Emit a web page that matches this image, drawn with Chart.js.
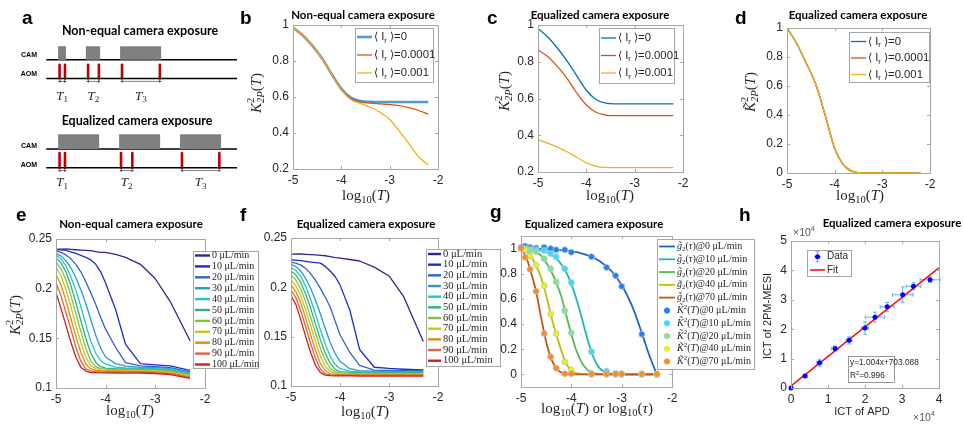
<!DOCTYPE html>
<html>
<head>
<meta charset="utf-8">
<title>Camera exposure figure</title>
<script src="https://cdn.jsdelivr.net/npm/chart.js@4.4.1/dist/chart.umd.min.js"></script>
<style>
  html, body { margin: 0; padding: 0; background: #fff; }
  #fig { position: relative; width: 964px; height: 425px; overflow: hidden; background: #fff; }
  #fig canvas { position: absolute; left: 0; top: 0; }
</style>
</head>
<body>
<div id="fig"></div>
<script>
var W = 964, H = 425;
var SANS = 'Liberation Sans', SERIF = 'Liberation Serif', TITLE = 'Lato';

// ---- a: timing diagram (time units along the row)
var camNonEq = [[55, 63], [83, 98], [118, 160]];
var aomNonEq = [[56.5, 62], [85.5, 96.5], [120, 158.5]];
var camEq = [[55, 97], [117, 159], [179, 221]];
var aomEq = [[56.5, 62], [119, 130.5], [181, 219]];

// ---- b, c, d
var logT = [-5, -4.8, -4.6, -4.4, -4.2, -4.0, -3.8, -3.6, -3.4, -3.2, -3.0, -2.8, -2.6, -2.4, -2.2];
var irLevels = ['0', '0.0001', '0.001'];
var bIr0 = [0.985, 0.943, 0.885, 0.815, 0.727, 0.645, 0.595, 0.577, 0.573, 0.572, 0.572, 0.572, 0.572, 0.572, 0.572];
var bIr1 = [0.985, 0.943, 0.885, 0.815, 0.727, 0.643, 0.590, 0.572, 0.566, 0.562, 0.558, 0.552, 0.541, 0.525, 0.505];
var bIr2 = [0.985, 0.943, 0.885, 0.815, 0.725, 0.640, 0.585, 0.563, 0.543, 0.515, 0.475, 0.410, 0.340, 0.268, 0.222];
var cIr0 = [0.980, 0.935, 0.875, 0.805, 0.725, 0.645, 0.595, 0.575, 0.571, 0.571, 0.571, 0.571, 0.571, 0.571, 0.571];
var cIr1 = [0.865, 0.828, 0.775, 0.710, 0.630, 0.565, 0.525, 0.510, 0.507, 0.507, 0.507, 0.507, 0.507, 0.507, 0.507];
var cIr2 = [0.375, 0.357, 0.335, 0.310, 0.280, 0.250, 0.231, 0.225, 0.224, 0.224, 0.224, 0.224, 0.224, 0.224, 0.224];
var dK = [1.000, 0.895, 0.760, 0.615, 0.400, 0.170, 0.050, 0.008, 0.000, 0.000, 0.000, 0.000, 0.000, 0.000, 0.000];

// ---- e, f
var flowT = [-5, -4.9, -4.8, -4.7, -4.6, -4.5, -4.4, -4.3, -4.2, -4.1, -4.0, -3.8, -3.6, -3.3, -3.0, -2.7, -2.3];
var flowRates = [0, 10, 20, 30, 40, 50, 60, 70, 80, 90, 100];
var flowColors = ['#2a2a8c', '#1f2ccc', '#2d63d6', '#2e97d6', '#25c4cc', '#2ab57e', '#7fc445', '#c9c51c', '#dc8d14', '#e2643c', '#cc2020'];
var e0 = [0.2395, 0.2398, 0.2400, 0.2396, 0.2392, 0.2388, 0.2385, 0.2383, 0.2373, 0.2366, 0.2366, 0.2345, 0.2315, 0.2245, 0.2100, 0.1870, 0.1475];
var e10 = [0.2393, 0.2390, 0.2385, 0.2370, 0.2355, 0.2335, 0.2315, 0.2290, 0.2245, 0.2170, 0.2055, 0.1790, 0.1440, 0.1245, 0.1232, 0.1222, 0.1178];
var e20 = [0.2380, 0.2365, 0.2340, 0.2300, 0.2245, 0.2170, 0.2070, 0.1960, 0.1840, 0.1710, 0.1590, 0.1410, 0.1255, 0.1222, 0.1214, 0.1205, 0.1163];
var e30 = [0.2356, 0.2330, 0.2280, 0.2210, 0.2110, 0.1990, 0.1850, 0.1690, 0.1530, 0.1400, 0.1310, 0.1245, 0.1220, 0.1208, 0.1205, 0.1196, 0.1155];
var e40 = [0.2340, 0.2300, 0.2230, 0.2120, 0.1980, 0.1820, 0.1640, 0.1470, 0.1350, 0.1275, 0.1240, 0.1210, 0.1203, 0.1199, 0.1196, 0.1187, 0.1147];
var e50 = [0.2310, 0.2260, 0.2170, 0.2030, 0.1860, 0.1680, 0.1500, 0.1350, 0.1260, 0.1215, 0.1200, 0.1195, 0.1193, 0.1190, 0.1187, 0.1178, 0.1138];
var e60 = [0.2270, 0.2200, 0.2090, 0.1930, 0.1750, 0.1570, 0.1400, 0.1270, 0.1215, 0.1195, 0.1189, 0.1186, 0.1185, 0.1182, 0.1179, 0.1170, 0.1130];
var e70 = [0.2215, 0.2130, 0.1990, 0.1820, 0.1630, 0.1460, 0.1310, 0.1225, 0.1195, 0.1183, 0.1179, 0.1177, 0.1176, 0.1174, 0.1171, 0.1162, 0.1122];
var e80 = [0.2145, 0.2040, 0.1880, 0.1700, 0.1520, 0.1360, 0.1240, 0.1195, 0.1178, 0.1172, 0.1170, 0.1169, 0.1168, 0.1166, 0.1163, 0.1153, 0.1113];
var e90 = [0.2060, 0.1930, 0.1760, 0.1590, 0.1410, 0.1270, 0.1190, 0.1172, 0.1165, 0.1163, 0.1162, 0.1161, 0.1160, 0.1158, 0.1155, 0.1145, 0.1105];
var e100 = [0.1963, 0.1800, 0.1630, 0.1460, 0.1310, 0.1210, 0.1170, 0.1156, 0.1154, 0.1153, 0.1152, 0.1151, 0.1150, 0.1149, 0.1146, 0.1135, 0.1097];
var f0 = [0.2335, 0.2340, 0.2338, 0.2335, 0.2332, 0.2328, 0.2324, 0.2320, 0.2312, 0.2302, 0.2295, 0.2282, 0.2267, 0.2205, 0.2115, 0.1905, 0.1450];
var f10 = [0.2277, 0.2275, 0.2270, 0.2263, 0.2256, 0.2250, 0.2245, 0.2212, 0.2165, 0.2110, 0.2025, 0.1770, 0.1370, 0.1190, 0.1178, 0.1170, 0.1162];
var f20 = [0.2253, 0.2245, 0.2225, 0.2190, 0.2140, 0.2070, 0.1990, 0.1900, 0.1800, 0.1660, 0.1520, 0.1340, 0.1210, 0.1160, 0.1157, 0.1156, 0.1155];
var f30 = [0.2233, 0.2210, 0.2165, 0.2090, 0.1990, 0.1870, 0.1730, 0.1580, 0.1440, 0.1330, 0.1250, 0.1175, 0.1155, 0.1150, 0.1149, 0.1148, 0.1148];
var f40 = [0.2200, 0.2170, 0.2110, 0.2010, 0.1880, 0.1730, 0.1570, 0.1420, 0.1300, 0.1220, 0.1175, 0.1150, 0.1143, 0.1142, 0.1141, 0.1141, 0.1141];
var f50 = [0.2166, 0.2125, 0.2050, 0.1930, 0.1790, 0.1630, 0.1470, 0.1330, 0.1230, 0.1170, 0.1145, 0.1138, 0.1136, 0.1135, 0.1135, 0.1135, 0.1135];
var f60 = [0.2125, 0.2075, 0.1980, 0.1850, 0.1700, 0.1540, 0.1380, 0.1260, 0.1180, 0.1145, 0.1133, 0.1129, 0.1128, 0.1128, 0.1128, 0.1128, 0.1128];
var f70 = [0.2074, 0.2015, 0.1910, 0.1770, 0.1610, 0.1450, 0.1300, 0.1200, 0.1150, 0.1130, 0.1125, 0.1122, 0.1122, 0.1121, 0.1121, 0.1121, 0.1121];
var f80 = [0.2024, 0.1955, 0.1840, 0.1690, 0.1520, 0.1360, 0.1230, 0.1155, 0.1125, 0.1118, 0.1116, 0.1115, 0.1115, 0.1115, 0.1115, 0.1115, 0.1115];
var f90 = [0.1973, 0.1895, 0.1760, 0.1600, 0.1430, 0.1280, 0.1170, 0.1125, 0.1113, 0.1110, 0.1109, 0.1108, 0.1108, 0.1108, 0.1108, 0.1108, 0.1108];
var f100 = [0.1915, 0.1825, 0.1670, 0.1500, 0.1340, 0.1210, 0.1135, 0.1110, 0.1105, 0.1103, 0.1102, 0.1102, 0.1101, 0.1101, 0.1101, 0.1101, 0.1101];
var eSeries = [e0, e10, e20, e30, e40, e50, e60, e70, e80, e90, e100];
var fSeries = [f0, f10, f20, f30, f40, f50, f60, f70, f80, f90, f100];

// ---- g
var gRates = [0, 10, 20, 40, 70];
var gLineColors = ['#1f66c8', '#1fb5ba', '#52bb52', '#bdbd00', '#bb5a10'];
var gDotColors = ['#1f80f5', '#3adcff', '#86e09a', '#e8f020', '#ff8a1e'];
var gTau = [-5, -4.9, -4.8, -4.7, -4.6, -4.5, -4.4, -4.3, -4.2, -4.1, -4.0, -3.9, -3.8, -3.7, -3.6, -3.5, -3.4, -3.2, -3.0, -2.8, -2.6, -2.45, -2.3];
var gFit0 = [1.000, 1.000, 0.999, 0.998, 0.997, 0.995, 0.993, 0.990, 0.987, 0.983, 0.978, 0.971, 0.962, 0.950, 0.935, 0.915, 0.890, 0.820, 0.710, 0.550, 0.330, 0.150, 0.000];
var gFit10 = [1.000, 0.999, 0.997, 0.993, 0.985, 0.972, 0.952, 0.920, 0.875, 0.810, 0.720, 0.600, 0.460, 0.310, 0.180, 0.085, 0.035, 0.005, 0, 0, 0, 0, 0];
var gFit20 = [1.000, 0.995, 0.988, 0.972, 0.945, 0.890, 0.820, 0.730, 0.620, 0.470, 0.320, 0.190, 0.100, 0.045, 0.018, 0.006, 0.002, 0, 0, 0, 0, 0, 0];
var gFit40 = [1.000, 0.980, 0.935, 0.865, 0.770, 0.630, 0.460, 0.320, 0.190, 0.085, 0.030, 0.010, 0.003, 0, 0, 0, 0, 0, 0, 0, 0, 0, 0];
var gFit70 = [1.000, 0.935, 0.810, 0.660, 0.450, 0.260, 0.125, 0.048, 0.015, 0.004, 0.001, 0, 0, 0, 0, 0, 0, 0, 0, 0, 0, 0, 0];
var gT = [-5, -4.92, -4.82, -4.7, -4.54, -4.41, -4.3, -4.13, -4.0, -3.6, -3.3, -3.12, -3.0, -2.6, -2.3];
var gK0 = [1.010, 1.020, 1.010, 1.005, 1.010, 1.000, 0.990, 0.990, 0.970, 0.935, 0.850, 0.785, 0.700, 0.320, 0.000];
var gK10 = [1.000, 1.000, 0.995, 0.990, 0.985, 0.960, 0.935, 0.840, 0.730, 0.180, 0.025, 0.008, 0.005, 0.005, 0.003];
var gK20 = [1.000, 0.995, 0.985, 0.975, 0.920, 0.840, 0.735, 0.505, 0.330, 0.008, 0.003, 0.003, 0.002, 0.002, 0.002];
var gK40 = [1.000, 0.990, 0.940, 0.870, 0.705, 0.480, 0.325, 0.100, 0.035, 0.000, 0.000, 0.000, 0.000, 0.000, 0.000];
var gK70 = [1.005, 0.930, 0.835, 0.660, 0.325, 0.140, 0.050, 0.005, 0.005, 0.003, 0.003, 0.003, 0.003, 0.003, 0.003];
var gFits = [gFit0, gFit10, gFit20, gFit40, gFit70];
var gDots = [gK0, gK10, gK20, gK40, gK70];

// ---- h (units of 1e4)
var apd = [0, 0.38, 0.77, 1.19, 1.57, 2.00, 2.27, 2.60, 3.02, 3.31, 3.76];
var mesi = [0, 0.41, 0.86, 1.34, 1.62, 2.04, 2.41, 2.76, 3.17, 3.46, 3.68];
var apdErr = [0, 0.05, 0.07, 0.10, 0.08, 0.10, 0.26, 0.19, 0.28, 0.20, 0.27];
var mesiErr = [0, 0.05, 0.12, 0.08, 0.12, 0.21, 0.17, 0.15, 0.27, 0.12, 0.10];
var fitX = [0, 4];
var fitY = [0.070, 4.087];

// ---------- helpers ----------
var Y_W = 36, X_H = 18;
var meta = {};

function pts(xs, ys) { return xs.map(function (x, i) { return { x: x, y: ys[i] }; }); }

function curve(xs, ys, color, width, label, extra) {
  var d = { label: label, data: pts(xs, ys), showLine: true, borderColor: color, backgroundColor: color,
    borderWidth: width, pointRadius: 0, fill: false, tension: 0, borderJoinStyle: 'round' };
  return Object.assign(d, extra || {});
}

function dots(xs, ys, color, label, r) {
  return { label: label, data: pts(xs, ys), showLine: false, pointRadius: r || 3, pointBackgroundColor: color,
    pointBorderColor: 'rgba(185,195,205,0.9)', pointBorderWidth: 0.8, backgroundColor: color, borderColor: color, clip: false };
}

function stackUp(list) { list.forEach(function (d, i) { d.order = -i; }); return list; }

function lin(pos, min, max, ticks, hide) {
  var ax = {
    type: 'linear', position: pos, min: min, max: max, display: !hide,
    afterBuildTicks: function (s) { s.ticks = ticks.map(function (v) { return { value: v }; }); },
    grid: { display: false, drawTicks: false },
    border: { display: false },
    ticks: { autoSkip: false, maxRotation: 0, padding: 4, color: '#262626',
      font: { family: SANS, size: 12 },
      callback: function (v) { return String(v); } }
  };
  if (!hide) ax.afterFit = function (s) { if (pos === 'left') s.width = Y_W; else s.height = X_H; };
  return ax;
}

function opts(plot, xAx, yAx, pad) {
  return {
    responsive: false, animation: false, devicePixelRatio: 1, events: [],
    layout: { padding: pad || { left: plot[0] - Y_W, top: plot[1], right: W - plot[2], bottom: H - plot[3] - X_H } },
    plugins: { legend: { display: false }, tooltip: { enabled: false } },
    scales: { x: xAx, y: yAx }
  };
}

function drawText(ctx, t) {
  var segs = typeof t.s === 'string' ? [{ t: t.s }] : t.s;
  var size = t.size || 12, fam = t.fam || SANS;
  ctx.save();
  ctx.translate(t.x, t.y);
  if (t.rot) ctx.rotate(t.rot * Math.PI / 180);
  ctx.textBaseline = t.base || 'middle';
  ctx.textAlign = 'left';
  ctx.fillStyle = t.color || '#262626';
  var pos = 0, items = [];
  segs.forEach(function (g) {
    var fs = size * (g.s || 1);
    var font = (g.it ? 'italic ' : '') + ((g.b || t.bold) ? 'bold ' : '') + fs + 'px "' + (g.f || fam) + '"';
    ctx.font = font;
    items.push({ t: g.t, font: font, x: pos, dy: (g.dy || 0) * size });
    if (!g.back) pos += ctx.measureText(g.t).width;
  });
  var x0 = t.align === 'center' ? -pos / 2 : (t.align === 'right' ? -pos : 0);
  items.forEach(function (it) { ctx.font = it.font; ctx.fillText(it.t, x0 + it.x, it.dy); });
  ctx.restore();
}

function drawBox(chart) {
  var a = chart.chartArea, ctx = chart.ctx, sx = chart.scales.x, sy = chart.scales.y;
  ctx.save();
  ctx.strokeStyle = '#a6a6a6';
  ctx.lineWidth = 1;
  ctx.beginPath();
  sx.ticks.forEach(function (t) {
    var p = Math.round(sx.getPixelForValue(t.value)) + 0.5;
    ctx.moveTo(p, a.bottom); ctx.lineTo(p, a.bottom - 3);
    ctx.moveTo(p, a.top); ctx.lineTo(p, a.top + 3);
  });
  sy.ticks.forEach(function (t) {
    var p = Math.round(sy.getPixelForValue(t.value)) + 0.5;
    ctx.moveTo(a.left, p); ctx.lineTo(a.left + 3, p);
    ctx.moveTo(a.right, p); ctx.lineTo(a.right - 3, p);
  });
  ctx.stroke();
  ctx.strokeRect(Math.round(a.left) + 0.5, Math.round(a.top) + 0.5, Math.round(a.right - a.left), Math.round(a.bottom - a.top));
  ctx.restore();
}

function drawLegend(chart, L) {
  var ctx = chart.ctx;
  ctx.save();
  ctx.fillStyle = '#fff';
  ctx.fillRect(L.x, L.y, L.w, L.h);
  ctx.strokeStyle = '#a6a6a6';
  ctx.lineWidth = 1;
  ctx.strokeRect(L.x + 0.5, L.y + 0.5, L.w, L.h);
  var rows = chart.data.datasets.filter(function (d) { return d.label; });
  rows.forEach(function (d, i) {
    var y = L.y + L.first + i * L.step;
    var x0 = L.x + L.l0, x1 = L.x + L.l1, cx = (x0 + x1) / 2;
    if (d.showLine) {
      ctx.strokeStyle = d.borderColor;
      ctx.lineWidth = d.legendWidth || d.borderWidth;
      ctx.beginPath(); ctx.moveTo(x0, y); ctx.lineTo(x1, y); ctx.stroke();
    }
    if (d.pointRadius > 0) {
      if (d.errLegend) {
        ctx.strokeStyle = d.errLegend; ctx.lineWidth = 0.9;
        ctx.beginPath();
        ctx.moveTo(cx, y - 5); ctx.lineTo(cx, y + 5);
        ctx.moveTo(cx - 2, y - 5); ctx.lineTo(cx + 2, y - 5);
        ctx.moveTo(cx - 2, y + 5); ctx.lineTo(cx + 2, y + 5);
        ctx.stroke();
        ctx.strokeStyle = d.pointBackgroundColor;
        ctx.beginPath(); ctx.moveTo(cx - 3, y); ctx.lineTo(cx + 3, y); ctx.stroke();
      }
      ctx.fillStyle = d.pointBackgroundColor;
      ctx.beginPath(); ctx.arc(cx, y, d.pointRadius, 0, 2 * Math.PI); ctx.fill();
    }
    drawText(ctx, { s: d.rich || d.label, x: L.x + L.tx, y: y, size: L.size, fam: L.fam });
  });
  ctx.restore();
}

function drawErr(chart, E) {
  var ctx = chart.ctx, sx = chart.scales.x, sy = chart.scales.y;
  ctx.save();
  ctx.strokeStyle = E.color;
  ctx.lineWidth = 0.9;
  ctx.beginPath();
  E.xs.forEach(function (x, i) {
    if (!E.ex[i] && !E.ey[i]) return;
    var px = sx.getPixelForValue(x), py = sy.getPixelForValue(E.ys[i]);
    var xl = sx.getPixelForValue(x - E.ex[i]), xr = sx.getPixelForValue(x + E.ex[i]);
    var yb = sy.getPixelForValue(E.ys[i] - E.ey[i]), yt = sy.getPixelForValue(E.ys[i] + E.ey[i]);
    ctx.moveTo(xl, py); ctx.lineTo(xr, py);
    ctx.moveTo(xl, py - 2); ctx.lineTo(xl, py + 2);
    ctx.moveTo(xr, py - 2); ctx.lineTo(xr, py + 2);
    ctx.moveTo(px, yb); ctx.lineTo(px, yt);
    ctx.moveTo(px - 2, yb); ctx.lineTo(px + 2, yb);
    ctx.moveTo(px - 2, yt); ctx.lineTo(px + 2, yt);
  });
  ctx.stroke();
  ctx.restore();
}

Chart.register({
  id: 'deco',
  beforeDatasetsDraw: function (chart) {
    var m = meta[chart.canvas.id];
    if (m && m.err) drawErr(chart, m.err);
  },
  afterDatasetsDraw: function (chart) {
    var m = meta[chart.canvas.id];
    if (m && m.box) drawBox(chart);
  },
  afterDraw: function (chart) {
    var m = meta[chart.canvas.id];
    if (!m) return;
    if (m.legend) drawLegend(chart, m.legend);
    (m.rects || []).forEach(function (r) {
      chart.ctx.save();
      chart.ctx.fillStyle = '#fff'; chart.ctx.fillRect(r[0], r[1], r[2], r[3]);
      chart.ctx.strokeStyle = '#7f7f7f'; chart.ctx.lineWidth = 0.8;
      chart.ctx.strokeRect(r[0] + 0.5, r[1] + 0.5, r[2], r[3]);
      chart.ctx.restore();
    });
    (m.texts || []).forEach(function (t) { drawText(chart.ctx, t); });
    if (m.after) m.after(chart);
  }
});

function mk(id, cfg, m) {
  var c = document.createElement('canvas');
  c.id = id; c.width = W; c.height = H;
  document.getElementById('fig').appendChild(c);
  meta[id] = m || {};
  return new Chart(c, cfg);
}

// text pieces
function letter(ch, x, y) { return { s: ch, x: x, y: y, size: 19, bold: true, fam: SANS, color: '#000', base: 'alphabetic' }; }
function title(s, x, y, size) { return { s: s, x: x, y: y, size: size || 11.5, bold: true, fam: TITLE, color: '#000', align: 'center' }; }
var logSegs = [{ t: 'log' }, { t: '10', s: 0.7, dy: 0.28 }, { t: '(' }, { t: 'T', it: 1 }, { t: ')' }];
var kSegs = [{ t: 'K', it: 1 }, { t: '2', s: 0.7, dy: -0.38, back: 1 }, { t: '2P', s: 0.7, dy: 0.28, it: 1 }, { t: '(' }, { t: 'T', it: 1 }, { t: ')' }];
var kTildeSegs = [{ t: 'K\u0303', it: 1 }, { t: '2', s: 0.7, dy: -0.38, back: 1 }, { t: '2P', s: 0.7, dy: 0.28, it: 1 }, { t: '(' }, { t: 'T', it: 1 }, { t: ')' }];
function xlab(segs, x, y) { return { s: segs, x: x, y: y, size: 15, fam: SERIF, align: 'center' }; }
function ylab(segs, x, y) { return { s: segs, x: x, y: y, size: 15, fam: SERIF, align: 'center', rot: -90 }; }
function irRich(i) { return [{ t: '\u27e8 I' }, { t: 'r', s: 0.7, dy: 0.3 }, { t: ' \u27e9=' + irLevels[i] }]; }

// ---------- a ----------
var rowNonEq = { cam: 57, top: 43, aom: 76, ptop: 62, arr: 79, lab: 94 };
var rowEq = { cam: 148, top: 133, aom: 167, ptop: 152, arr: 170, lab: 182 };

function timingRow(cam, aom, r) {
  var ds = [];
  cam.forEach(function (c) {
    ds.push({ data: pts(c, [r.top, r.top]), showLine: true, fill: { value: r.cam }, backgroundColor: '#808080',
      borderWidth: 0, pointRadius: 0 });
  });
  ds.push(curve([43, 237], [r.cam, r.cam], '#000', 1.5));
  ds.push(curve([43, 237], [r.aom, r.aom], '#000', 1.5));
  aom.forEach(function (p) {
    p.forEach(function (x) { ds.push(curve([x, x], [r.ptop, r.aom], '#c00000', 2.6)); });
    ds.push(curve(p, [r.arr, r.arr], '#333', 0.6, undefined,
      { pointRadius: 1.6, pointStyle: 'triangle', pointRotation: [-90, 90], pointBackgroundColor: '#333', pointBorderWidth: 0 }));
  });
  return ds;
}

function tLabels(chart, aom, r) {
  var sx = chart.scales.x, sy = chart.scales.y;
  aom.forEach(function (p, k) {
    drawText(chart.ctx, { s: [{ t: 'T', it: 1 }, { t: String(k + 1), s: 0.7, dy: 0.3 }],
      x: sx.getPixelForValue((p[0] + p[1]) / 2), y: sy.getPixelForValue(r.lab), size: 13, fam: SERIF, align: 'center' });
  });
}

mk('pa', {
  type: 'scatter',
  data: { datasets: timingRow(camNonEq, aomNonEq, rowNonEq).concat(timingRow(camEq, aomEq, rowEq)) },
  options: opts(null, lin('bottom', 0, 240, [], true), Object.assign(lin('left', 0, 200, [], true), { reverse: true }),
    { left: 0, top: 0, right: W - 240, bottom: H - 200 })
}, {
  texts: [
    letter('a', 22, 24),
    title('Non-equal camera exposure', 140, 31, 12.5),
    title('Equalized camera exposure', 137, 121, 12.5),
    { s: 'CAM', x: 37, y: 55, size: 7, bold: true, align: 'right', color: '#000' },
    { s: 'AOM', x: 37, y: 74, size: 7, bold: true, align: 'right', color: '#000' },
    { s: 'CAM', x: 37, y: 146, size: 7, bold: true, align: 'right', color: '#000' },
    { s: 'AOM', x: 37, y: 165, size: 7, bold: true, align: 'right', color: '#000' }
  ],
  after: function (chart) { tLabels(chart, aomNonEq, rowNonEq); tLabels(chart, aomEq, rowEq); }
});

// ---------- b ----------
var mono = { cubicInterpolationMode: 'monotone' };
function irSets(a0, a1, a2, w0) {
  var s = [
    curve(logT, a0, w0 ? '#4d9bd9' : '#0072bd', w0 || 1.3, 'Ir=0', mono),
    curve(logT, a1, '#d95319', 1.3, 'Ir=0.0001', mono),
    curve(logT, a2, '#edb120', 1.3, 'Ir=0.001', mono)
  ];
  s.forEach(function (d, i) { d.rich = irRich(i); d.legendWidth = i === 0 && w0 ? 2.6 : 1.3; });
  return stackUp(s);
}
var irTicksX = [-5, -4, -3, -2];

mk('pb', {
  type: 'scatter',
  data: { datasets: irSets(bIr0, bIr1, bIr2, 2.6) },
  options: opts([293, 25, 438, 169], lin('bottom', -5, -2, irTicksX), lin('left', 0.2, 1, [0.2, 0.4, 0.6, 0.8, 1]))
}, {
  box: true,
  legend: { x: 355, y: 28, w: 78, h: 54, first: 9, step: 18, l0: 2, l1: 17, tx: 19, size: 11.3, fam: SANS },
  texts: [letter('b', 240, 24), title('Non-equal camera exposure', 363, 15),
    xlab(logSegs, 366, 196), ylab(kSegs, 257, 93)]
});

// ---------- c ----------
mk('pc', {
  type: 'scatter',
  data: { datasets: irSets(cIr0, cIr1, cIr2) },
  options: opts([538, 25, 683, 172], lin('bottom', -5, -2, irTicksX), lin('left', 0.2, 1, [0.2, 0.4, 0.6, 0.8, 1]))
}, {
  box: true,
  legend: { x: 599, y: 28, w: 75, h: 55, first: 10, step: 17.5, l0: 2, l1: 17, tx: 19, size: 11.3, fam: SANS },
  texts: [letter('c', 487, 24), title('Equalized camera exposure', 600, 15),
    xlab(logSegs, 610, 196), ylab(kSegs, 505, 91)]
});

// ---------- d ----------
mk('pd', {
  type: 'scatter',
  data: { datasets: irSets(dK, dK, dK) },
  options: opts([787, 28, 930, 173], lin('bottom', -5, -2, irTicksX), lin('left', 0, 1, [0, 0.2, 0.4, 0.6, 0.8, 1]))
}, {
  box: true,
  legend: { x: 849, y: 32, w: 80, h: 50, first: 9.5, step: 16.5, l0: 2, l1: 17, tx: 19, size: 11.3, fam: SANS },
  texts: [letter('d', 735, 24), title('Equalized camera exposure', 858, 15),
    xlab(logSegs, 860, 196), ylab(kTildeSegs, 751, 92)]
});

// ---------- e, f ----------
function flowSets(series) {
  return stackUp(series.map(function (ys, i) {
    return curve(flowT, ys, flowColors[i], 1.3, flowRates[i] + ' \u03bcL/min', { legendWidth: 2.4 });
  }));
}
var flowTicksY = [0.1, 0.15, 0.2, 0.25];

mk('pe', {
  type: 'scatter',
  data: { datasets: flowSets(eSeries) },
  options: opts([56, 239, 205, 388], lin('bottom', -5, -2, irTicksX), lin('left', 0.1, 0.25, flowTicksY))
}, {
  box: true,
  legend: { x: 193, y: 251, w: 65, h: 117, first: 4.5, step: 10.9, l0: 2, l1: 17, tx: 19, size: 10, fam: SERIF },
  texts: [letter('e', 16, 221), title('Non-equal camera exposure', 131, 224),
    xlab(logSegs, 130, 411), ylab(kSegs, 16, 315)]
});

mk('pf', {
  type: 'scatter',
  data: { datasets: flowSets(fSeries) },
  options: opts([291, 238, 438, 386], lin('bottom', -5, -2, irTicksX), lin('left', 0.1, 0.25, flowTicksY))
}, {
  box: true,
  legend: { x: 426, y: 249, w: 74, h: 117, first: 5, step: 10.67, l0: 2, l1: 15, tx: 17, size: 10.5, fam: SERIF },
  texts: [letter('f', 240, 221), title('Equalized camera exposure', 366, 224), xlab(logSegs, 365, 412)]
});

// ---------- g ----------
var gSets = [];
gFits.forEach(function (ys, i) {
  var d = curve(gTau, ys, gLineColors[i], 1.8, 'g2(tau)@' + gRates[i], mono);
  d.rich = [{ t: 'g\u0303', it: 1 }, { t: '2', s: 0.7, dy: 0.28 }, { t: '(' }, { t: '\u03c4', it: 1 }, { t: ')@' + gRates[i] + ' \u03bcL/min' }];
  gSets.push(d);
});
gDots.forEach(function (ys, i) {
  var d = dots(gT, ys, gDotColors[i], 'K2(T)@' + gRates[i]);
  d.rich = [{ t: 'K\u0303', it: 1 }, { t: '2', s: 0.7, dy: -0.35 }, { t: '(' }, { t: 'T', it: 1 }, { t: ')@' + gRates[i] + ' \u03bcL/min' }];
  gSets.push(d);
});

mk('pg', {
  type: 'scatter',
  data: { datasets: stackUp(gSets) },
  options: opts([521, 236, 672, 387], lin('bottom', -5, -2, irTicksX), lin('left', -0.1, 1.1, [0, 0.2, 0.4, 0.6, 0.8, 1]))
}, {
  box: true,
  legend: { x: 657, y: 239, w: 97, h: 130, first: 7.5, step: 12.78, l0: 2, l1: 18, tx: 20, size: 10, fam: SERIF },
  texts: [letter('g', 490, 218), title('Equalized camera exposure', 594, 224),
    xlab([{ t: 'log' }, { t: '10', s: 0.7, dy: 0.28 }, { t: '(' }, { t: 'T', it: 1 }, { t: ') ' },
      { t: 'or', f: SANS, s: 0.85 }, { t: ' log' }, { t: '10', s: 0.7, dy: 0.28 }, { t: '(' }, { t: '\u03c4', it: 1 }, { t: ')' }], 597, 409)]
});

// ---------- h ----------
var hData = dots(apd, mesi, '#0000ff', 'Data', 2.5);
hData.pointBorderWidth = 0;
hData.errLegend = '#5aa5e8';
mk('ph', {
  type: 'scatter',
  data: { datasets: [hData, curve(fitX, fitY, '#ff0000', 1.5, 'Fit')] },
  options: opts([791, 241, 939, 388], lin('bottom', 0, 4, [0, 1, 2, 3, 4]), lin('left', 0, 5, [0, 1, 2, 3, 4, 5]))
}, {
  box: true,
  err: { xs: apd, ys: mesi, ex: apdErr, ey: mesiErr, color: '#5aa5e8' },
  legend: { x: 807, y: 250, w: 44, h: 26, first: 6.7, step: 13.3, l0: 3, l1: 18, tx: 20, size: 10, fam: SANS },
  rects: [[848, 356, 46, 26]],
  texts: [letter('h', 739, 221), title('Equalized camera exposure', 892, 223),
    { s: 'y=1.004x+703.088', x: 850, y: 363, size: 8.3, fam: SANS },
    { s: [{ t: 'R' }, { t: '2', s: 0.7, dy: -0.3 }, { t: '=0.996' }], x: 850, y: 376, size: 8.3, fam: SANS },
    { s: [{ t: '\u00d710' }, { t: '4', s: 0.7, dy: -0.35 }], x: 793, y: 233, size: 10.5, fam: SANS, color: '#555' },
    { s: [{ t: '\u00d710' }, { t: '4', s: 0.7, dy: -0.35 }], x: 913, y: 418, size: 10.5, fam: SANS, color: '#555' },
    { s: 'ICT of 2PM-MESI', x: 768, y: 316, size: 11, fam: SANS, align: 'center', rot: -90 },
    { s: 'ICT of APD', x: 862, y: 412, size: 11, fam: SANS, align: 'center' }]
});
</script>
</body>
</html>
